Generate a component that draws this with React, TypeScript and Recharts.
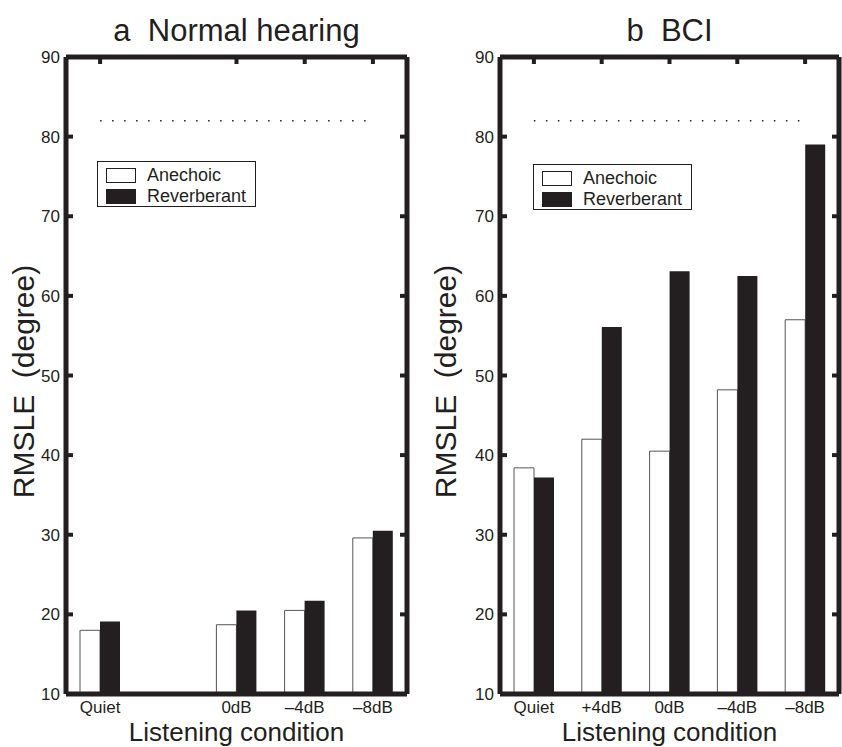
import React from 'react';
import { ComposedChart, Bar, Line, XAxis, YAxis, Legend } from 'recharts';

const conditions = ['Quiet', '+4dB', '0dB', '–4dB', '–8dB'];
const normalTickLabels = ['Quiet', '0dB', '–4dB', '–8dB'];
const bciTickLabels = ['Quiet', '+4dB', '0dB', '–4dB', '–8dB'];
const normalAnechoic = [18.0, null, 18.7, 20.5, 29.6];
const normalReverberant = [19.1, null, 20.5, 21.7, 30.5];
const bciAnechoic = [38.4, 42.0, 40.5, 48.2, 57.0];
const bciReverberant = [37.2, 56.1, 63.1, 62.5, 79.0];
const chanceLevel = [82, 82, 82, 82, 82];
const yTicks = [10, 20, 30, 40, 50, 60, 70, 80, 90];
const seriesNames = ['Anechoic', 'Reverberant'];

const INK = '#231f20';
const FONT = '"Liberation Sans", Arial, Helvetica, sans-serif';
const FRAME = 5;
const CHART_W = 421;
const CHART_H = 747;

const build = (an: (number | null)[], rev: (number | null)[]) =>
  conditions.map((c, i) => ({ cat: c, anechoic: an[i], reverberant: rev[i], chance: chanceLevel[i] }));

const normalData = build(normalAnechoic, normalReverberant);
const bciData = build(bciAnechoic, bciReverberant);

const NoTick = () => <g />;

const YTick = (props: any) => {
  const { x, y, payload, plotLeft, plotRight } = props;
  return (
    <g>
      <text x={x} y={y} dy="0.355em" textAnchor="end" fontSize={17} fill={INK} fontFamily={FONT}>
        {payload.value}
      </text>
      <line x1={plotLeft} x2={plotLeft + 7} y1={y} y2={y} stroke={INK} strokeWidth={4} />
      <line x1={plotRight - 7} x2={plotRight} y1={y} y2={y} stroke={INK} strokeWidth={4} />
    </g>
  );
};

const renderLegend = (props: any) => {
  const items = (props.payload || []).filter((p: any) => p.type !== 'none');
  return (
    <div
      style={{
        border: `1.5px solid ${INK}`,
        width: 159,
        height: 46,
        boxSizing: 'border-box',
        background: '#fff',
        padding: '3px 0 0 8px',
        fontFamily: FONT,
        fontSize: 18,
        color: INK,
      }}
    >
      {items.map((it: any) => (
        <div key={it.value} style={{ display: 'flex', alignItems: 'center', height: 21, lineHeight: '21px' }}>
          <span
            style={{
              display: 'inline-block',
              width: 30,
              height: 15,
              boxSizing: 'border-box',
              background: it.color,
              border: `1px solid ${INK}`,
              marginRight: 11,
            }}
          />
          {it.value}
        </div>
      ))}
    </div>
  );
};

const YLabel = (props: any) => {
  const vb = props.viewBox || {};
  const cx = vb.x + vb.width - props.baselineFromRight;
  const cy = vb.y + vb.height / 2 + 6;
  return (
    <text
      x={cx}
      y={cy}
      transform={`rotate(-90, ${cx}, ${cy})`}
      textAnchor="middle"
      fontSize={30}
      fontFamily={FONT}
      fill={INK}
      style={{ whiteSpace: 'pre' }}
    >
      {'RMSLE  (degree)'}
    </text>
  );
};

type PanelProps = {
  data: any[];
  tickLabels: string[];
  yAxisWidth: number;
  rightMargin: number;
  legendLeft: number;
  legendTop: number;
  labelBaseline: number;
};

const Panel = ({ data, tickLabels, yAxisWidth, rightMargin, legendLeft, legendTop, labelBaseline }: PanelProps) => (
  <ComposedChart
    width={CHART_W}
    height={CHART_H}
    data={data}
    margin={{ top: 57, right: rightMargin, bottom: 0, left: 0 }}
    barGap={0}
    barSize={20}
    style={{ fontFamily: FONT }}
  >
    <XAxis
      xAxisId="bottom"
      dataKey="cat"
      type="category"
      height={53}
      ticks={tickLabels}
      interval={0}
      tickLine={false}
      tickSize={0}
      tickMargin={7}
      axisLine={{ stroke: INK, strokeWidth: FRAME }}
      tick={{ fontSize: 17, fill: INK, fontFamily: FONT }}
      label={{ value: 'Listening condition', position: 'insideBottom', offset: 6, fontSize: 26, fill: INK, fontFamily: FONT }}
    />
    <XAxis
      xAxisId="top"
      dataKey="cat"
      type="category"
      orientation="top"
      mirror
      ticks={tickLabels}
      interval={0}
      tick={NoTick}
      tickSize={7}
      tickLine={{ stroke: INK, strokeWidth: 4 }}
      axisLine={{ stroke: INK, strokeWidth: FRAME }}
    />
    <YAxis
      yAxisId="left"
      width={yAxisWidth}
      domain={[10, 90]}
      ticks={yTicks}
      interval={0}
      allowDataOverflow
      tickLine={false}
      tickSize={0}
      tickMargin={6}
      axisLine={{ stroke: INK, strokeWidth: FRAME }}
      tick={(p: any) => <YTick {...p} plotLeft={yAxisWidth} plotRight={CHART_W - rightMargin} />}
      label={{ content: (p: any) => <YLabel {...p} baselineFromRight={labelBaseline} /> }}
    />
    <YAxis
      yAxisId="right"
      orientation="right"
      mirror
      domain={[10, 90]}
      ticks={yTicks}
      interval={0}
      tick={NoTick}
      tickLine={false}
      axisLine={{ stroke: INK, strokeWidth: FRAME }}
    />
    <Legend
      layout="vertical"
      align="center"
      verticalAlign="middle"
      content={renderLegend}
      wrapperStyle={{ left: legendLeft, top: legendTop, width: 159, height: 46 }}
    />
    <Line
      xAxisId="bottom"
      yAxisId="left"
      dataKey="chance"
      stroke={INK}
      strokeWidth={1.5}
      strokeDasharray="1.5 10.5"
      dot={false}
      activeDot={false}
      legendType="none"
      isAnimationActive={false}
    />
    <Bar
      xAxisId="bottom"
      yAxisId="left"
      dataKey="anechoic"
      name={seriesNames[0]}
      fill="#ffffff"
      stroke="#555555"
      strokeWidth={1}
      isAnimationActive={false}
    />
    <Bar
      xAxisId="bottom"
      yAxisId="left"
      dataKey="reverberant"
      name={seriesNames[1]}
      fill={INK}
      isAnimationActive={false}
    />
  </ComposedChart>
);

const titleStyle = (left: number, width: number): React.CSSProperties => ({
  position: 'absolute',
  left,
  width,
  top: 15,
  textAlign: 'center',
  fontFamily: FONT,
  fontSize: 31,
  lineHeight: '31px',
  color: INK,
  whiteSpace: 'pre',
});

export default function App() {
  return (
    <div style={{ position: 'absolute', left: 0, top: 0, width: 842, height: 747, background: '#fff', overflow: 'hidden' }}>
      <div style={{ position: 'absolute', left: 0, top: 0 }}>
        <Panel
          data={normalData}
          tickLabels={normalTickLabels}
          yAxisWidth={66}
          rightMargin={14}
          legendLeft={97}
          legendTop={161}
          labelBaseline={32}
        />
      </div>
      <div style={{ position: 'absolute', left: 421, top: 0 }}>
        <Panel
          data={bciData}
          tickLabels={bciTickLabels}
          yAxisWidth={79}
          rightMargin={3}
          legendLeft={112}
          legendTop={164}
          labelBaseline={44}
        />
      </div>
      <div style={titleStyle(66, 341)}>{'a  Normal hearing'}</div>
      <div style={titleStyle(500, 339)}>{'b  BCI'}</div>
    </div>
  );
}
